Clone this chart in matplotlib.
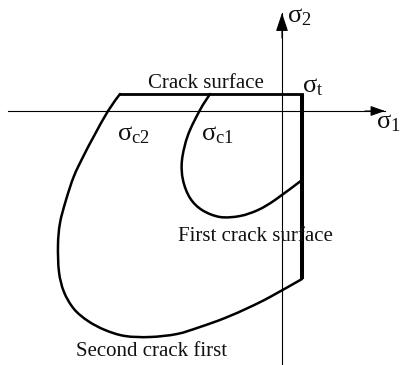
import matplotlib
matplotlib.use("Agg")
import matplotlib.pyplot as plt
from matplotlib.path import Path
from matplotlib.patches import PathPatch
import numpy as np

plt.rcParams['font.family'] = ['Liberation Serif', 'DejaVu Serif']
plt.rcParams['mathtext.fontset'] = 'custom'
plt.rcParams['mathtext.rm'] = 'Liberation Serif'
plt.rcParams['mathtext.it'] = 'Liberation Serif'

# ---- data (picture coordinates) ----
sigma1_axis_x = [8, 385]
sigma1_axis_y = [111, 111]
sigma2_axis_x = [282, 282]
sigma2_axis_y = [365, 13]

crack_top_x = [120, 302]
crack_top_y = [94, 94]

tension_x = [302, 302]
tension_y = [94, 279]

outer_x = [120, 108, 94, 84, 74, 66, 60, 58, 59, 64, 74, 88, 105, 125, 150, 177, 200, 225, 250, 270, 302]
outer_y = [94, 111, 136, 155, 176, 200, 223, 245, 272, 292, 309, 321, 330, 336, 337, 334, 327, 318, 307, 297, 279]

inner_x = [210, 200, 188, 182, 183, 190, 202, 220, 240, 258, 275, 302]
inner_y = [94, 110, 135, 160, 180, 198, 210, 217, 216, 210, 200, 180]

labels = ["Crack surface", "First crack surface", "Second crack first"]
label_x = [206, 255, 152]
label_y = [88, 241, 356]

sig_labels = [r'$\mathregular{σ_t}$', r'$\mathregular{σ_2}$', r'$\mathregular{σ_1}$',
              r'$\mathregular{σ_{c2}}$', r'$\mathregular{σ_{c1}}$']
sig_x = [302, 287, 376, 117, 201]
sig_y = [92, 22, 128, 140, 140]


def smooth_path(xs, ys):
    """Cubic Bezier path through the given points (Catmull-Rom tangents)."""
    p = np.column_stack([xs, ys]).astype(float)
    ext = np.vstack([p[0], p, p[-1]])
    verts = [p[0]]
    codes = [Path.MOVETO]
    for i in range(len(p) - 1):
        p0, p1, p2, p3 = ext[i], ext[i + 1], ext[i + 2], ext[i + 3]
        verts += [p1 + (p2 - p0) / 6.0, p2 - (p3 - p1) / 6.0, p2]
        codes += [Path.CURVE4] * 3
    return Path(verts, codes)


# ---- figure ----
fig = plt.figure(figsize=(4.0, 3.65), dpi=100)
ax = fig.add_axes([0, 0, 1, 1])
ax.set_xlim(0, 400)
ax.set_ylim(365, 0)
ax.axis('off')

# axes with arrows
ax.plot(sigma1_axis_x, sigma1_axis_y, color='black', lw=0.8)
ax.plot(sigma2_axis_x, sigma2_axis_y, color='black', lw=0.8)
ax.annotate('', xy=(sigma1_axis_x[1], sigma1_axis_y[1]),
            xytext=(sigma1_axis_x[1] - 20, sigma1_axis_y[1]),
            arrowprops=dict(arrowstyle='-|>,head_length=0.4,head_width=0.14',
                            mutation_scale=22, lw=0.8, color='black',
                            shrinkA=0, shrinkB=0))
ax.annotate('', xy=(sigma2_axis_x[1], sigma2_axis_y[1]),
            xytext=(sigma2_axis_x[1], sigma2_axis_y[1] + 25),
            arrowprops=dict(arrowstyle='-|>,head_length=0.45,head_width=0.15',
                            mutation_scale=25, lw=0.8, color='black',
                            shrinkA=0, shrinkB=0))

# surfaces
ax.plot(crack_top_x, crack_top_y, color='black', lw=2.0, solid_capstyle='projecting')
ax.plot(tension_x, tension_y, color='black', lw=2.9, solid_capstyle='butt')
ax.add_patch(PathPatch(smooth_path(outer_x, outer_y), facecolor='none',
                       edgecolor='black', lw=1.8, joinstyle='round', capstyle='round'))
ax.add_patch(PathPatch(smooth_path(inner_x, inner_y), facecolor='none',
                       edgecolor='black', lw=1.8, joinstyle='round', capstyle='round'))

for t, x, y in zip(labels, label_x, label_y):
    ax.text(x, y, t, fontsize=15, ha='center', va='baseline', color='#111111')

for t, x, y in zip(sig_labels, sig_x, sig_y):
    ax.text(x, y, t, fontsize=19, ha='left', va='baseline', color='#111111')

fig.savefig('out.png', dpi=100)
